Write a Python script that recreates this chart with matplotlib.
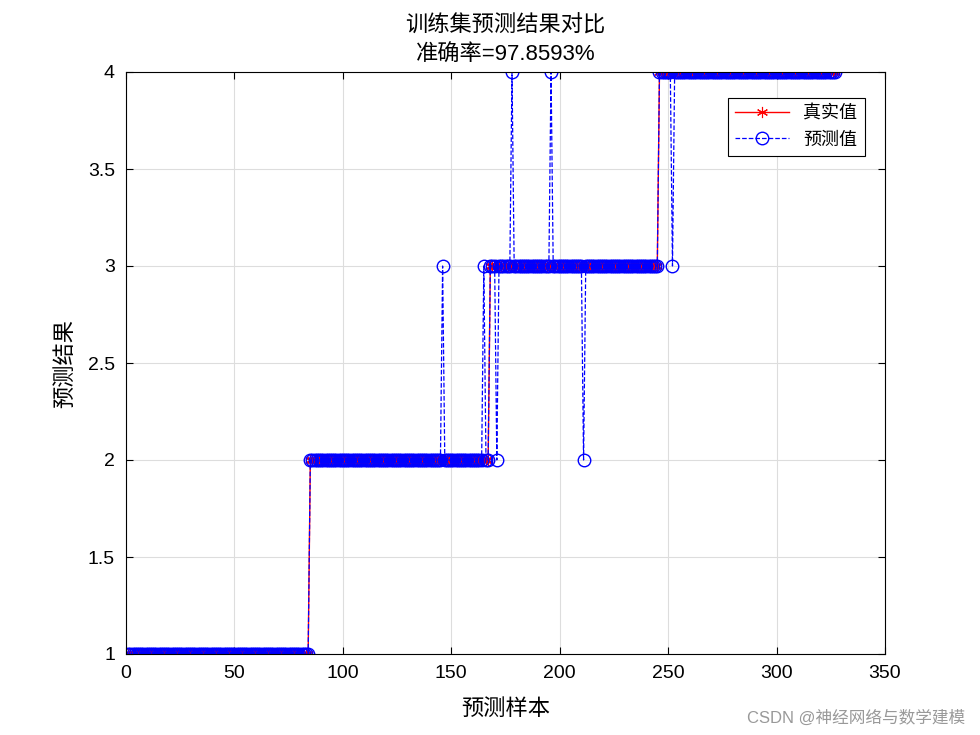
import numpy as np
import matplotlib.pyplot as plt

plt.rcParams['font.family'] = ['Liberation Sans', 'Noto Sans CJK SC']

# true class boundaries (last sample index of each class)
class_ends = [84, 167, 245, 327]
class_labels = [1, 2, 3, 4]
# misclassified samples: index -> predicted class
wrong_idx = [146, 165, 171, 178, 196, 211, 252]
wrong_pred = [3, 3, 2, 4, 4, 2, 3]

n = class_ends[-1]
x = np.arange(1, n + 1)
true_y = np.zeros(n)
start = 0
for end, lab in zip(class_ends, class_labels):
    true_y[start:end] = lab
    start = end
pred_y = true_y.copy()
for i, p in zip(wrong_idx, wrong_pred):
    pred_y[i - 1] = p

fig = plt.figure(figsize=(9.8, 7.35), dpi=100)
ax = fig.add_axes([126/980, 1 - 654/735, (885-126)/980, (654-72)/735])
ax.plot(x, true_y, '-', color='red', marker=(6, 2, 0), markersize=8, linewidth=1.0,
        markeredgewidth=0.8, label='真实值')
ax.plot(x, pred_y, '--', color='blue', marker='o', markersize=9, markerfacecolor='none',
        linewidth=0.9, label='预测值')
ax.set_xlim(0, 350)
ax.set_ylim(1, 4)
ax.set_xticks(range(0, 351, 50))
ax.set_yticks([1, 1.5, 2, 2.5, 3, 3.5, 4])
ax.set_yticklabels(['1', '1.5', '2', '2.5', '3', '3.5', '4'])
ax.tick_params(labelsize=14, direction='in', top=True, right=True, length=5, pad=8)
ax.grid(True, color='#dddddd', linewidth=0.8)
ax.set_axisbelow(True)
ax.set_xlabel('预测样本', fontsize=16, labelpad=12)
ax.set_ylabel('预测结果', fontsize=16, labelpad=8)
ax.set_title('训练集预测结果对比\n准确率=97.8593%', fontsize=16, linespacing=1.5, pad=8)
leg = ax.legend(loc='upper right', bbox_to_anchor=(0.985, 0.97), fontsize=13,
                fancybox=False, edgecolor='black', framealpha=1, handlelength=3)
leg.get_frame().set_linewidth(0.8)
fig.text(0.985, 0.012, 'CSDN @神经网络与数学建模', ha='right', va='bottom',
         fontsize=12, color='#999999')
fig.savefig('out.png')
